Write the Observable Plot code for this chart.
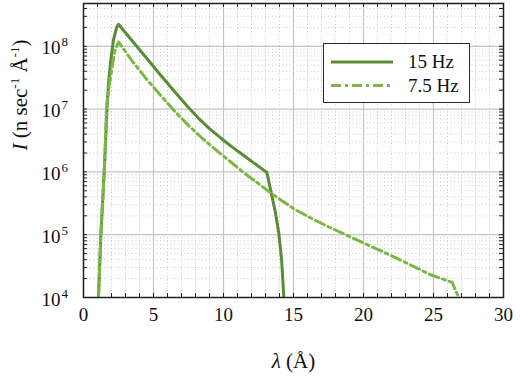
<!DOCTYPE html>
<html>
<head>
<meta charset="utf-8">
<script src="https://cdn.jsdelivr.net/npm/d3@7"></script>
<script src="https://cdn.jsdelivr.net/npm/@observablehq/plot@0.6"></script>
<style>
  html, body { margin: 0; padding: 0; background: #fff; }
  #wrap { position: relative; width: 520px; height: 376px; font-family: "Liberation Serif", Tinos, "Times New Roman", Times, serif; }
  #legend { position: absolute; left: 323px; top: 43px; width: 145px; height: 58px; border: 1.5px solid #2a2a2a; background: #fff; }
  #legend svg { position: absolute; left: 0; top: 0; }
</style>
</head>
<body>
<div id="wrap"></div>
<script>
// ---- data ----
const seriesNames = ["15 Hz", "7.5 Hz"];
const colors = ["#5a8c35", "#7db645"];

const lambda15 = [1.07, 1.24, 1.48, 1.55, 1.67, 1.79, 1.95, 2.14, 2.38, 2.5, 3.5, 4.5, 5.5, 6.5, 7.4, 8.2, 9, 9.8, 10.6, 11.45, 12.3, 13.1, 13.36, 13.7, 13.95, 14.15, 14.31];
const inten15  = [1e4, 1e5, 1e6, 2.2e6, 9.5e6, 2.6e7, 6e7, 1.26e8, 2.04e8, 2.24e8, 1.2e8, 6.5e7, 3.5e7, 1.9e7, 1.12e7, 7.2e6, 4.9e6, 3.47e6, 2.5e6, 1.82e6, 1.32e6, 9.8e5, 5.2e5, 2.3e5, 1.05e5, 4e4, 1e4];

const lambda75 = [1.07, 1.24, 1.48, 1.67, 1.9, 2.1, 2.26, 2.5, 3.5, 4.5, 5.5, 6.5, 7.5, 8.5, 9.5, 10.5, 11.5, 12.5, 13.5, 15, 16.2, 17.64, 20, 22.4, 24.8, 26.33, 26.8];
const inten75  = [1e4, 1e5, 1e6, 1.26e7, 2.9e7, 5.6e7, 8.7e7, 1.17e8, 5.75e7, 3e7, 1.66e7, 9.3e6, 5.5e6, 3.4e6, 2.2e6, 1.45e6, 9.5e5, 6.5e5, 4.4e5, 2.6e5, 1.86e5, 1.29e5, 7.4e4, 4.2e4, 2.3e4, 1.74e4, 1e4];

const xTickLabels = [0, 5, 10, 15, 20, 25, 30];
const xMajorGrid = [5, 10, 15, 20, 25];
const xAllTicks = [0,1,2,3,4,5,6,7,8,9,10,11,12,13,14,15,16,17,18,19,20,21,22,23,24,25,26,27,28,29,30];
const yDecades = [1e4, 1e5, 1e6, 1e7, 1e8];
const yMajorGrid = [1e5, 1e6, 1e7, 1e8];
const yMantissas = [2, 3, 4, 5, 6, 7, 8, 9];
const yMinorTicks = yDecades.flatMap(d => yMantissas.map(m => m * d)).filter(v => v < 4.8e8);
const xMinorGrid = xAllTicks.filter(v => v % 5 !== 0);

const data15 = lambda15.map((x, i) => ({x, y: inten15[i]}));
const data75 = lambda75.map((x, i) => ({x, y: inten75[i]}));

const FONT = "'Liberation Serif', Tinos, 'Times New Roman', Times, serif";
const plotW = 420, plotH = 294;
const chart = Plot.plot({
  width: 520,
  height: 376,
  marginLeft: 83,
  marginRight: 17,
  marginTop: 3,
  marginBottom: 79,
  x: {domain: [0, 30], axis: null},
  y: {type: "log", domain: [1e4, 4.8e8], axis: null},
  style: {fontFamily: FONT, fontSize: "19px", background: "#fff", color: "#111"},
  marks: [
    Plot.ruleX(xMinorGrid, {x: d => d, stroke: "#bdbdbd", strokeWidth: 0.8, strokeDasharray: "1,2.5"}),
    Plot.ruleY(yMinorTicks, {y: d => d, stroke: "#bdbdbd", strokeWidth: 0.8, strokeDasharray: "1,2.5"}),
    Plot.ruleX(xMajorGrid, {x: d => d, stroke: "#c4c4c4", strokeWidth: 1.2}),
    Plot.ruleY(yMajorGrid, {y: d => d, stroke: "#c4c4c4", strokeWidth: 1.2}),
    // inward ticks
    Plot.ruleX(xAllTicks, {x: d => d, insetTop: plotH - 4, stroke: "#222", strokeWidth: 1}),
    Plot.ruleX(xAllTicks, {x: d => d, insetBottom: plotH - 4, stroke: "#222", strokeWidth: 1}),
    Plot.ruleY(yDecades.concat(yMinorTicks), {y: d => d, insetRight: plotW - 4, stroke: "#222", strokeWidth: 1}),
    Plot.ruleY(yDecades.concat(yMinorTicks), {y: d => d, insetLeft: plotW - 4, stroke: "#222", strokeWidth: 1}),
    // curves
    Plot.line(data15, {x: "x", y: "y", stroke: colors[0], strokeWidth: 3, clip: true}),
    Plot.line(data75, {x: "x", y: "y", stroke: colors[1], strokeWidth: 3, strokeDasharray: "10,4,3,4", clip: true}),
    Plot.frame({stroke: "#1e1e1e", strokeWidth: 1.5}),
    // x tick labels
    Plot.text(xTickLabels, {x: d => d, frameAnchor: "bottom", lineAnchor: "middle", dy: 17, text: d => String(d), fontSize: 19, fill: "#111"}),
    // y tick labels 10^n
    Plot.text(yDecades, {y: d => d, frameAnchor: "left", text: () => "10", textAnchor: "end", dx: -23, dy: 2, fontSize: 19, fill: "#111"}),
    Plot.text(yDecades, {y: d => d, frameAnchor: "left", text: d => String(Math.round(Math.log10(d))), textAnchor: "start", dx: -22, dy: -4, fontSize: 13, fill: "#111"}),
    // axis labels
    Plot.text(["λ (Å)"], {frameAnchor: "bottom", lineAnchor: "middle", dy: 64, text: d => d, fontSize: 21, fill: "#111"}),
    Plot.text(["I (n sec-1 Å-1)"], {frameAnchor: "left", dx: -63, rotate: -90, text: d => d, fontSize: 21, fill: "#111"})
  ]
});

const wrap = document.getElementById("wrap");
wrap.appendChild(chart);
d3.select(chart).selectAll("text").attr("font-family", FONT);

// rich text for labels
d3.select(chart).selectAll("text").filter(function() { return this.textContent === "I (n sec-1 Å-1)"; })
  .each(function() {
    const t = d3.select(this);
    t.text(null);
    t.append("tspan").attr("font-style", "italic").text("I");
    t.append("tspan").text(" (n sec");
    t.append("tspan").attr("font-size", 13).attr("dy", -8).text("-1");
    t.append("tspan").attr("dy", 8).text(" Å");
    t.append("tspan").attr("font-size", 13).attr("dy", -8).text("-1");
    t.append("tspan").attr("dy", 8).text(")");
  });
d3.select(chart).selectAll("text").filter(function() { return this.textContent === "λ (Å)"; })
  .each(function() {
    const t = d3.select(this);
    t.text(null);
    t.append("tspan").attr("font-style", "italic").text("λ");
    t.append("tspan").text(" (Å)");
  });

// legend
const legend = document.createElement("div");
legend.id = "legend";
wrap.appendChild(legend);
const lsvg = d3.select(legend).append("svg").attr("width", 145).attr("height", 58)
  .style("font-family", FONT).style("font-size", "19px");
seriesNames.forEach((name, i) => {
  const y = 18 + i * 23.5;
  lsvg.append("line").attr("x1", 7).attr("x2", 69).attr("y1", y).attr("y2", y)
    .attr("stroke", colors[i]).attr("stroke-width", 3)
    .attr("stroke-dasharray", i === 1 ? "10,4,3,4" : null);
  lsvg.append("text").attr("x", 84).attr("y", y + 6).attr("fill", "#111").attr("font-family", FONT).text(name);
});
</script>
</body>
</html>
